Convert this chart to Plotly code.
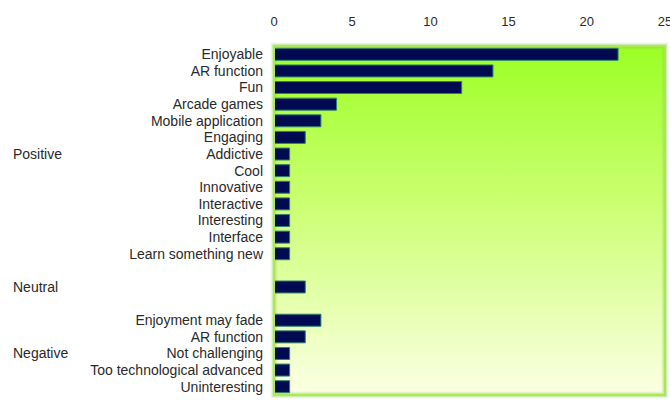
import base64
import plotly.graph_objects as go

# ---- data ----
positive_labels = ["Enjoyable", "AR function", "Fun", "Arcade games", "Mobile application",
                   "Engaging", "Addictive", "Cool", "Innovative", "Interactive",
                   "Interesting", "Interface", "Learn something new"]
positive_values = [22, 14, 12, 4, 3, 2, 1, 1, 1, 1, 1, 1, 1]
neutral_labels = [""]
neutral_values = [2]
negative_labels = ["Enjoyment may fade", "AR function", "Not challenging",
                   "Too technological advanced", "Uninteresting"]
negative_values = [3, 2, 1, 1, 1]
group_names = ["Positive", "Neutral", "Negative"]
x_ticks = [0, 5, 10, 15, 20, 25]

groups = [(positive_labels, positive_values), (neutral_labels, neutral_values),
          (negative_labels, negative_values)]

# build slots (with one blank slot between groups)
ys, xs, tick_vals, tick_text, group_mid = [], [], [], [], []
slot = 0
for gi, (labs, vals) in enumerate(groups):
    start = slot
    for lab, v in zip(labs, vals):
        ys.append(slot)
        xs.append(v)
        tick_vals.append(slot)
        tick_text.append(lab)
        slot += 1
    group_mid.append((start + slot - 1) / 2)
    if gi < len(groups) - 1:
        slot += 1
n_slots = slot

FONT = "Liberation Sans, Arial, sans-serif"
TXT = "#2a2a2a"

fig = go.Figure()
fig.add_trace(go.Bar(
    x=xs, y=ys, orientation="h", width=0.72,
    marker=dict(color="#000a50", line=dict(color="#2f7f6f", width=1)),
    hoverinfo="x+y", showlegend=False,
))

# gradient background image (svg)
svg = ('<svg xmlns="http://www.w3.org/2000/svg" width="100" height="100" preserveAspectRatio="none">'
       '<defs><linearGradient id="g" x1="0" y1="0" x2="0" y2="1">'
       '<stop offset="0" stop-color="#9cff24"/>'
       '<stop offset="0.45" stop-color="#cbff72"/>'
       '<stop offset="1" stop-color="#fcffe4"/>'
       '</linearGradient></defs><rect width="100" height="100" fill="url(#g)"/></svg>')
src = "data:image/svg+xml;base64," + base64.b64encode(svg.encode()).decode()

fig.add_layout_image(dict(source=src, xref="paper", yref="paper", x=0, y=1,
                          sizex=1, sizey=1, sizing="stretch", layer="below",
                          xanchor="left", yanchor="top"))

# shadow / frame
for pad, col in [(7, "rgba(150,200,90,0.12)"), (5, "rgba(150,210,90,0.22)"),
                 (3, "rgba(150,220,80,0.40)")]:
    fig.add_shape(type="rect", xref="paper", yref="paper", x0=0, x1=1, y0=0, y1=1,
                  line=dict(color=col, width=pad), layer="below")
fig.add_shape(type="rect", xref="paper", yref="paper", x0=0, x1=1, y0=0, y1=1,
              line=dict(color="#aaea50", width=2), layer="above")

for name, mid in zip(group_names, group_mid):
    fig.add_annotation(text=name, xref="paper", yref="y", x=0, xshift=11 - 274, y=mid,
                       xanchor="left", yanchor="middle", showarrow=False,
                       font=dict(family=FONT, size=14, color=TXT))

fig.update_layout(
    width=670, height=400,
    margin=dict(l=274, r=5, t=46, b=5, autoexpand=False),
    paper_bgcolor="white", plot_bgcolor="rgba(0,0,0,0)",
    font=dict(family=FONT, size=14, color=TXT),
    xaxis=dict(side="top", range=[0, 25], tickvals=x_ticks, showgrid=False,
               zeroline=False, showline=False, ticks="", ticklabelstandoff=16,
               ticklabeloverflow="allow", automargin=False,
               tickfont=dict(size=13, color=TXT)),
    yaxis=dict(tickvals=tick_vals, ticktext=tick_text, range=[n_slots - 0.5, -0.5],
               showgrid=False, zeroline=False, showline=False, ticks="",
               ticklabelstandoff=10, automargin=False,
               tickfont=dict(size=14, color=TXT)),
)

fig.write_html("out.html")
